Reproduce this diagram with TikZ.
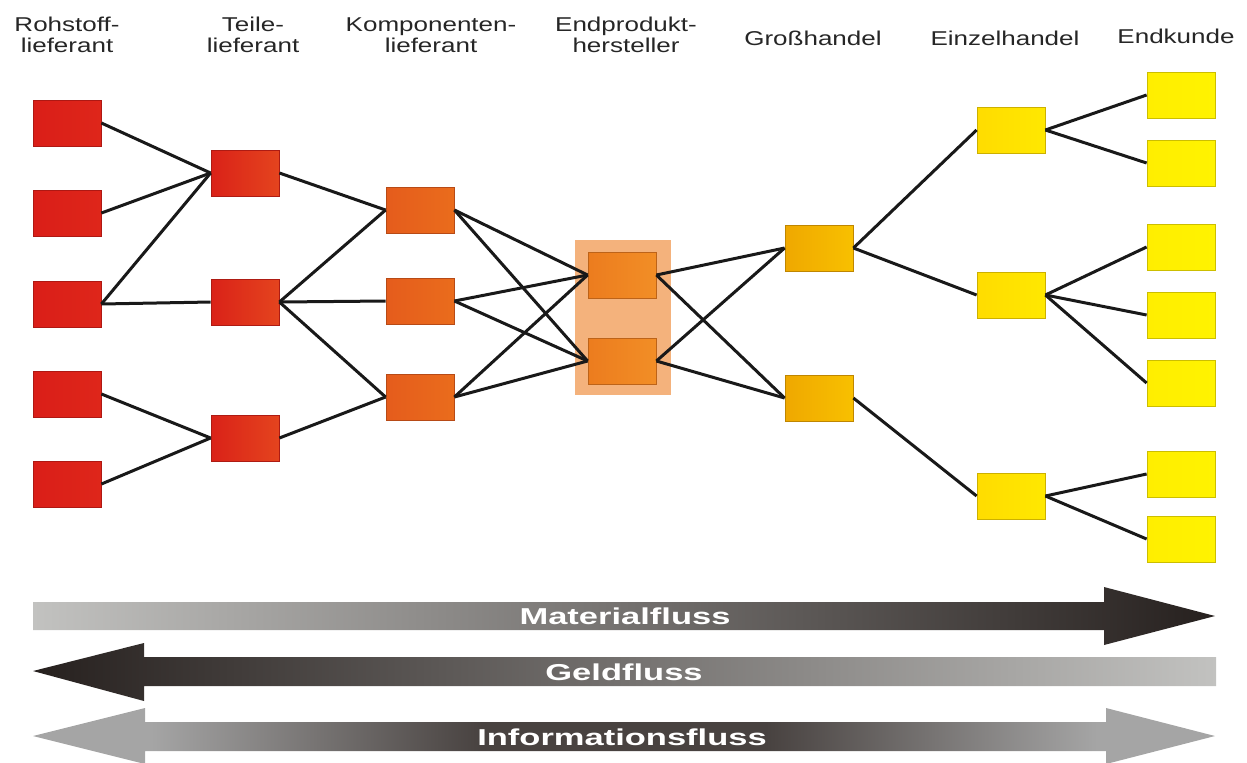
\documentclass[tikz,border=0pt]{standalone}
\usepackage{fontspec}
\setmainfont{Liberation Sans}
\newfontfamily\headfont[FakeStretch=1.3]{Liberation Sans}
\newfontfamily\flowfont[FakeStretch=1.5]{Liberation Sans}
\usepackage{tikz}
\usetikzlibrary{positioning}

\definecolor{rohA}{RGB}{218,30,24}
\definecolor{rohB}{RGB}{222,38,26}
\definecolor{teilA}{RGB}{218,34,24}
\definecolor{teilB}{RGB}{228,68,30}
\definecolor{kompA}{RGB}{229,92,28}
\definecolor{kompB}{RGB}{234,108,28}
\definecolor{endA}{RGB}{236,124,30}
\definecolor{endB}{RGB}{242,142,38}
\definecolor{endbg}{RGB}{244,178,124}
\definecolor{grossA}{RGB}{239,168,0}
\definecolor{grossB}{RGB}{248,192,0}
\definecolor{einzA}{RGB}{255,220,0}
\definecolor{einzB}{RGB}{255,232,0}
\definecolor{kundA}{RGB}{255,238,0}
\definecolor{kundB}{RGB}{255,243,0}
\definecolor{flowlight}{RGB}{194,194,192}
\definecolor{flowgrey}{RGB}{165,165,165}
\definecolor{flowmid}{RGB}{72,66,64}
\definecolor{flowdark}{RGB}{38,32,30}

% light - dark - light for the information flow
\pgfdeclarehorizontalshading{infoshade}{100bp}{color(0bp)=(flowgrey); color(30bp)=(flowgrey);
    color(44bp)=(flowmid); color(56bp)=(flowmid); color(70bp)=(flowgrey); color(100bp)=(flowgrey)}

\begin{document}
\begin{tikzpicture}[x=0.5pt,y=-0.5pt,
    box/.style={rectangle, minimum width=34pt, minimum height=23pt, inner sep=0pt,
        draw=#1A!80!black, line width=0.4pt, left color=#1A, right color=#1B},
    link/.style={line width=1.5pt, black!90},
    head/.style={font=\headfont\fontsize{10}{10.5}\selectfont, align=center, inner sep=0pt, text=black!85},
    flowtext/.style={font=\flowfont\fontsize{11.5}{12}\selectfont\bfseries, text=white, inner sep=0pt}]
    \path[use as bounding box, clip] (0,0) rectangle (1247,762);

    % Stage labels
    \node[head] (hroh) at (67,35) {Rohstoff-\\lieferant};
    \node[head] (hteil) at (253,35) {Teile-\\lieferant};
    \node[head] (hkomp) at (431,35) {Komponenten-\\lieferant};
    \node[head] (hend) at (626,35) {Endprodukt-\\hersteller};
    \node[head] (hgross) at (813,38) {Großhandel};
    \node[head] (heinz) at (1005,38) {Einzelhandel};
    \node[head] (hkund) at (1176,36) {Endkunde};

    % Producer frame
    \node[fill=endbg, inner sep=0pt, minimum width=48pt, minimum height=77.5pt] (ebg) at (623,317.5) {};

    % Boxes
    \foreach \y [count=\i] in {123,213,304,394,484}
        \node[box=roh] (r\i) at (67,\y) {};
    \foreach \y [count=\i] in {173,302,438}
        \node[box=teil] (t\i) at (245,\y) {};
    \foreach \y [count=\i] in {210,301,397}
        \node[box=komp] (k\i) at (420,\y) {};
    \foreach \y [count=\i] in {275,361}
        \node[box=end] (e\i) at (622,\y) {};
    \foreach \y [count=\i] in {248,398}
        \node[box=gross] (g\i) at (819,\y) {};
    \foreach \y [count=\i] in {130,295,496}
        \node[box=einz] (z\i) at (1011,\y) {};
    \foreach \y [count=\i] in {95,163,247,315,383,474,539}
        \node[box=kund] (c\i) at (1181,\y) {};

    % Links
    \foreach \a/\b in {r1/t1,r2/t1,r3/t1,r3/t2,r4/t3,r5/t3,
            t1/k1,t2/k1,t2/k2,t2/k3,t3/k3,
            k1/e1,k1/e2,k2/e1,k2/e2,k3/e1,k3/e2,
            e1/g1,e1/g2,e2/g1,e2/g2,
            g1/z1,g1/z2,g2/z3,
            z1/c1,z1/c2,z2/c3,z2/c4,z2/c5,z3/c6,z3/c7}
        \draw[link] (\a.east) -- (\b.west);

    % Flows
    \path[left color=flowlight, right color=flowdark]
        (33,602) -- (1104,602) -- (1104,587) -- (1215,616) -- (1104,645) -- (1104,630) -- (33,630) -- cycle;
    \node[flowtext] (mat) at (625,616) {Materialfluss};

    \path[left color=flowdark, right color=flowlight]
        (33,671) -- (144,643) -- (144,657) -- (1216,657) -- (1216,686) -- (144,686) -- (144,701) -- cycle;
    \node[flowtext] (geld) at (624,672) {Geldfluss};

    \path[shading=infoshade]
        (33,736) -- (145,708) -- (145,722) -- (1106,722) -- (1106,708) -- (1215,736)
        -- (1106,764) -- (1106,751) -- (145,751) -- (145,764) -- cycle;
    \node[flowtext] (info) at (622,737) {Informationsfluss};
\end{tikzpicture}
\end{document}
